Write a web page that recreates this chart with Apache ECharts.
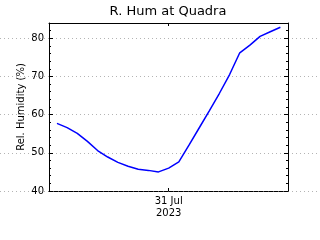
<!DOCTYPE html>
<html><head><meta charset="utf-8">
<script src="https://cdn.jsdelivr.net/npm/echarts@6/dist/echarts.min.js"></script>
<style>html,body{margin:0;padding:0;background:#fff}#c{width:320px;height:240px}</style>
</head><body><div id="c"></div>
<script>
const titleText = 'R. Hum at Quadra';
const yName = 'Rel. Humidity (%)';
const times = [
  '2023-07-30 13:00','2023-07-30 14:00','2023-07-30 15:00','2023-07-30 16:00',
  '2023-07-30 17:00','2023-07-30 18:00','2023-07-30 19:00','2023-07-30 20:00',
  '2023-07-30 21:00','2023-07-30 22:00','2023-07-30 23:00','2023-07-31 00:00',
  '2023-07-31 01:00','2023-07-31 02:00','2023-07-31 03:00','2023-07-31 04:00',
  '2023-07-31 05:00','2023-07-31 06:00','2023-07-31 07:00','2023-07-31 08:00',
  '2023-07-31 09:00','2023-07-31 10:00','2023-07-31 11:00'
];
const humidity = [
  57.7, 56.6, 55.1, 53.0, 50.6, 48.9, 47.5, 46.5, 45.7, 45.4, 45.0, 46.0,
  47.6, 52.0, 56.5, 61.0, 65.6, 70.5, 76.2, 78.2, 80.5, 81.7, 82.9
];
const yTickLabels = [40, 50, 60, 70, 80];
const xTickDates = ['2023-07-31 00:00'];
const xMinTime = '2023-07-30 12:13';
const xMaxTime = '2023-07-31 11:45';
const yMin = 40, yMax = 84;

const P = s => +echarts.time.parse(s);
const xTicks = xTickDates.map(P);
const months = ['Jan','Feb','Mar','Apr','May','Jun','Jul','Aug','Sep','Oct','Nov','Dec'];
const FONT = 'DejaVu Sans';

const chart = echarts.init(document.getElementById('c'), null, {renderer: 'canvas'});
const xBase = {
  type: 'value', gridIndex: 0, min: P(xMinTime), max: P(xMaxTime),
  splitLine: {show: false}
};
const yBase = {type: 'value', gridIndex: 0, min: yMin, max: yMax, splitLine: {show: false}};
chart.setOption({
  animation: false,
  backgroundColor: '#fff',
  title: {
    text: titleText, left: 168, top: 5, textAlign: 'center', padding: 0,
    textStyle: {fontFamily: FONT, fontSize: 13, fontWeight: 'normal', color: '#000'}
  },
  grid: [
    {left: 49, right: 32, top: 23, bottom: 49},
    {left: 0, right: 0, top: 23, bottom: 49}
  ],
  xAxis: [
    Object.assign({}, xBase, {
      position: 'bottom',
      axisLine: {lineStyle: {color: '#000', width: 1, type: [4, 1]}},
      axisTick: {inside: true, length: 3, customValues: xTicks, lineStyle: {color: '#000'}},
      axisLabel: {
        customValues: xTicks, margin: 4, fontFamily: FONT, fontSize: 10, lineHeight: 12, color: '#000',
        formatter: v => { const d = new Date(v); return d.getDate() + ' ' + months[d.getMonth()] + '\n' + d.getFullYear(); }
      }
    }),
    Object.assign({}, xBase, {
      position: 'top',
      axisLine: {lineStyle: {color: '#000', width: 1}},
      axisTick: {inside: true, length: 3, customValues: xTicks, lineStyle: {color: '#000'}},
      axisLabel: {show: false}
    }),
    {type: 'value', gridIndex: 1, min: 0, max: 1, show: false}
  ],
  yAxis: [
    Object.assign({}, yBase, {
      position: 'left', interval: 10,
      axisLine: {show: true, lineStyle: {color: '#000', width: 1}},
      axisTick: {inside: true, length: 4, customValues: yTickLabels, lineStyle: {color: '#000'}},
      axisLabel: {customValues: yTickLabels, margin: 5, fontFamily: FONT, fontSize: 10, color: '#000'},
      name: yName, nameLocation: 'middle', nameGap: 23, nameMoveOverlap: false,
      nameTextStyle: {fontFamily: FONT, fontSize: 10, color: '#000'}
    }),
    Object.assign({}, yBase, {
      position: 'left', interval: 2,
      axisLine: {show: false},
      axisTick: {inside: true, length: 2, lineStyle: {color: '#000'}},
      axisLabel: {show: false}
    }),
    Object.assign({}, yBase, {
      position: 'right', interval: 10,
      axisLine: {show: true, lineStyle: {color: '#000', width: 1}},
      axisTick: {inside: true, length: 4, customValues: yTickLabels, lineStyle: {color: '#000'}},
      axisLabel: {show: false}
    }),
    Object.assign({}, yBase, {
      position: 'right', interval: 2,
      axisLine: {show: false},
      axisTick: {inside: true, length: 2, lineStyle: {color: '#000'}},
      axisLabel: {show: false}
    }),
    {
      type: 'value', gridIndex: 1, min: yMin, max: yMax, interval: 10,
      axisLine: {show: false}, axisTick: {show: false}, axisLabel: {show: false},
      splitLine: {show: true, showMaxLine: false, lineStyle: {color: '#b4b4b4', width: 1, type: [1, 3]}}
    }
  ],
  series: [
    {
      type: 'line', xAxisIndex: 2, yAxisIndex: 4, data: [], silent: true
    },
    {
      type: 'line', xAxisIndex: 0, yAxisIndex: 0, z: 5,
      data: times.map((t, i) => [P(t), humidity[i]]),
      showSymbol: false, symbol: 'none',
      lineStyle: {color: '#0000ff', width: 1.5}
    }
  ]
});
</script>
</body></html>
